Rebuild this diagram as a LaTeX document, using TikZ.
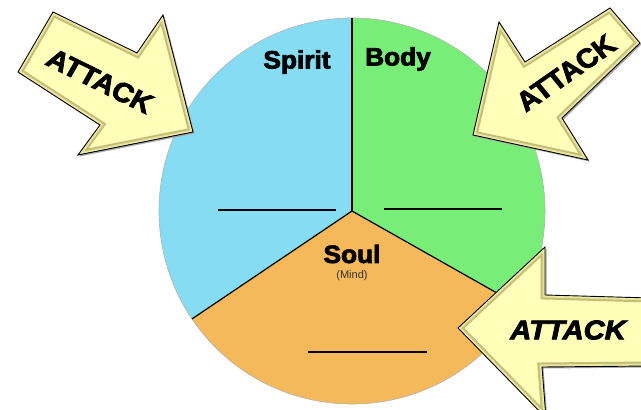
\documentclass[tikz,border=0pt]{standalone}
\usepackage{fontspec}
\setmainfont{Liberation Sans}
\newfontfamily\heavy[FakeBold=3]{Liberation Sans Bold}
\newfontfamily\heavyit[FakeBold=3]{Liberation Sans Bold Italic}
\definecolor{spiritblue}{HTML}{86DCF2}
\definecolor{bodygreen}{HTML}{78EE78}
\definecolor{soulorange}{HTML}{F5B85A}
\definecolor{arrowfill}{HTML}{FFFFBA}
\definecolor{bevelA}{HTML}{C4BD78}
\definecolor{bevelB}{HTML}{E6E29C}
\newcommand\attackarrow[1]{%
  \fill[black!35] [shift={(1.5,-1.5)}] #1 -- cycle;
  \fill[arrowfill] #1 -- cycle;
  \begin{scope}
    \clip #1 -- cycle;
    \draw[bevelA, line width=9, line join=miter] #1 -- cycle;
    \draw[bevelB, line width=5, line join=miter] #1 -- cycle;
    \draw[arrowfill!60!bevelB, line width=2.4, line join=miter] #1 -- cycle;
  \end{scope}
  \draw[black, line width=0.9, line join=miter] #1 -- cycle;}
\tikzset{
  divider/.style={black, line width=1.2},
  blank/.style={black, line width=1.4},
  partlabel/.style={font=\heavy\fontsize{25}{25}\selectfont, xscale=1.05, inner sep=0},
  attacklabel/.style={font=\heavy\fontsize{27}{27}\selectfont, xscale=1.08, inner sep=0},
}
\begin{document}
\begin{tikzpicture}[x=1pt,y=1pt]
\useasboundingbox (0,0) rectangle (641,-410);
\clip (0,0) rectangle (641,-410);
\fill[white] (0,0) rectangle (641,-410);
\coordinate (c) at (352,-211);
% sectors
\fill[spiritblue] (c) -- ++(90:193) arc[start angle=90, end angle=214, radius=193] -- cycle;
\fill[soulorange] (c) -- ++(214:193) arc[start angle=214, end angle=330.5, radius=193] -- cycle;
\fill[bodygreen] (c) -- ++(-29.5:193) arc[start angle=-29.5, end angle=90, radius=193] -- cycle;
\draw[gray!60, line width=0.6] (c) circle (193);
\draw[divider] (c) -- ++(90:193);
\draw[divider] (c) -- ++(214:193);
\draw[divider] (c) -- ++(330.5:193);
% blanks
\draw[blank] (218,-210) -- (336,-210);
\draw[blank] (384,-209) -- (502,-209);
\draw[blank] (308,-352) -- (427,-352);
% labels
\node[partlabel] (spirit) at (297,-62) {Spirit};
\node[partlabel] (body) at (398,-59) {Body};
\node[partlabel] (soul) at (352,-254) {Soul};
\node[font=\fontsize{11}{11}\selectfont, text=black!80, inner sep=0] (mind) at (352,-276) {(Mind)};
% arrows
\attackarrow{(53,-12) -- (137,-53) -- (163,-15) -- (193,-132) -- (78,-155) -- (100,-125) -- (18,-72)}
\attackarrow{(610,-8) -- (640,-43) -- (562,-118) -- (588,-160) -- (473,-135) -- (499,-22) -- (525,-62)}
\attackarrow{(458,-328) -- (545,-247) -- (545,-295) -- (650,-298) -- (650,-366) -- (542,-367) -- (546,-418)}
\node[attacklabel, rotate=-28] (attack1) at (100,-81) {ATTACK};
\node[attacklabel, rotate=37] (attack2) at (566,-73) {ATTACK};
\node[attacklabel, font=\heavyit\fontsize{27}{27}\selectfont] (attack3) at (568,-330) {ATTACK};
\end{tikzpicture}
\end{document}
